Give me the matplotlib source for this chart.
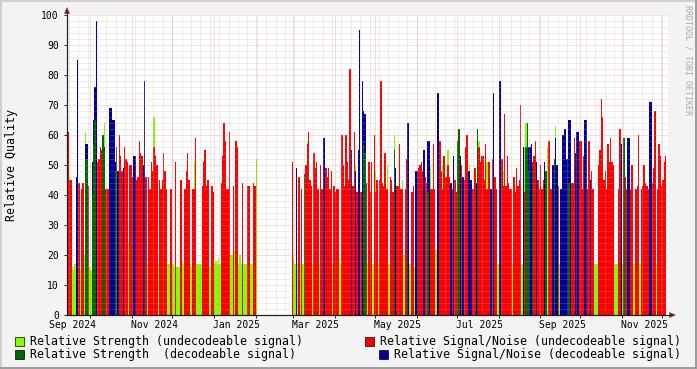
#!/usr/bin/env python3
# -*- coding: utf-8 -*-
"""
RRDtool-style daily signal quality chart, redrawn with matplotlib.
One bar per day, four overlaid series, grid drawn over the bars.
"""
import numpy as np
import pandas as pd
import matplotlib
matplotlib.use("Agg")
import matplotlib.pyplot as plt
import matplotlib.dates as mdates
from matplotlib.patches import Rectangle, Polygon
from matplotlib.lines import Line2D

# ---------------------------------------------------------------- data
# one token per day starting 2024-09-14, "." = no value
first_day = "2024-09-14"
n_days = 446

sn_undecodeable = """
61 45 45 . . . . . 44 .
42 44 . . . 43 . . . .
. . 51 52 56 55 . . 42 42
42 . . . . . . . 60 53
48 . 56 52 51 . 50 50 46 .
. 45 46 58 54 53 . . 46 .
46 42 51 48 56 53 50 . 45 42
45 54 48 42 . . 42 42 . .
51 . . . 45 . . 42 48 54
45 . . 42 42 59 . . . .
43 51 55 43 45 . . 43 41 .
. . . . 44 53 64 58 42 42
61 . . 43 . 58 56 . . .
44 . . . 43 43 . . 44 43
. . . . . . . . . .
. . . . . . . . . .
. . . . . . . 51 . .
. . 46 . 42 . . 50 57 61
45 43 . 54 49 51 42 . 50 42
. . 49 46 49 42 48 . 43 41
42 42 . . 60 50 43 60 51 45
82 . 43 61 . 41 . . 41 .
. . 44 . 51 41 51 . 60 41
45 . 45 78 44 43 54 42 42 .
46 45 41 . . 43 43 57 42 42
. 42 52 . . . 41 43 . .
. 49 50 51 48 . 46 44 . .
42 42 57 42 . . . 58 48 42
53 46 46 50 46 . 42 . 45 41
. . . 50 . 45 56 60 . .
. 42 42 49 . . 56 51 53 53
45 57 42 51 51 . 52 . 46 42
. . . 52 43 67 43 53 44 42
42 . 46 41 49 43 45 70 . .
41 . . . . . 51 53 58 .
45 42 50 42 45 . . . 58 42
42 . . . . 43 . . . .
. . . . . 44 44 59 . .
. 58 58 42 53 . . 42 58 .
48 42 . . . 50 55 72 66 45
48 42 57 51 59 51 50 . . .
42 62 . . . 46 42 . . 42
50 . . 42 43 60 . 42 43 50
44 43 42 . . 44 49 68 . 42
57 53 43 45 51 53
"""

sn_decodeable = """
. . . . . . 46 85 . .
. . . 57 57 . . . 51 65
76 98 . . . . 51 56 . .
. 69 69 65 65 51 51 48 . .
. 49 . . . . . . . 53
53 . . . . . 50 78 . .
. . . . . . . . . .
. . . . . . . . . .
. . . . . . . . . .
. . . . . . . . . .
. . . . . . . . . .
. . . . . . . . . .
. . . . . . . . . .
. . . . . . . . . .
. . . . . . . . . .
. . . . . . . . . .
. . . . . . . . . .
49 . . . . . 44 . . .
. . . . . . . . . .
59 59 . . . . . . . .
. . . . . . . . . .
. 55 . . 48 . 55 95 . 78
68 67 . . . . . . . .
. . . . . . . . . .
. . . 49 49 . . . . .
. . . 64 . . . . . 48
48 . . . . 55 . . 58 58
. . . . . 74 74 . . .
. . . . . 44 . 53 . .
55 55 53 . 46 . . . 48 48
45 . . . 44 60 . . . .
. . . . . 42 . 74 . .
. 78 78 . . . . . . .
. . . . . . . . . 56
. 48 56 56 56 57 . . . 51
. . . . . 51 46 . . .
. 50 50 59 50 . . 42 60 60
62 52 52 65 65 . . . 54 61
61 . . . . 65 65 . . 45
. . . . . . . . . .
. . . . . . . . . .
. . 57 . 56 . . 59 59 .
. . . . . . . . . .
. . . 71 71 . . . . .
. . . . . .
"""

strength_undecodeable = """
. . . 16 15 17 . . . 15
. . 20 61 . . 16 15 . .
. . . . . . . 64 . .
. . . . . . . . . .
. . . . . 24 . . . .
. . . . . . . . . 17
. . . . 66 . . 17 . .
. . . . 17 17 . . 17 16
. 16 16 16 . 18 17 . . .
. 17 16 . 51 . 17 17 17 17
. . . . . 16 16 . . 17
18 17 19 17 . . . . . .
. 20 20 . 21 . . 17 20 17
. 17 17 17 . . 17 17 . .
52 . . . . . . . . .
. . . . . . . . . .
. . . . . . . . 19 17
. 17 . 17 . 17 . . 58 .
. . 17 . . . . 17 . .
. . . . . . . 17 . .
. . 19 17 . . . . . .
. . . . 50 . . . . .
. . . 17 . . . 17 . 48
. 17 . . . . . . 50 17
. . . 60 . . . . . 45
20 . . . 17 17 . . 16 .
. . . . . . . . . .
50 . . . 22 . . . . 50
. . . 55 . . . . . .
. . 51 . . . . . . 50
. . . . . . 58 . . .
. . 51 47 . . . . . .
17 . . . 48 . . . . .
. 17 . . . . . . 17 .
56 64 . . . . . . . .
. . . . . . . 56 . .
. . . 63 . . 17 . . .
. . . . . . . . . .
. . . . . . . . . .
. . 17 17 17 . . . . .
. . . . . . . 17 17 17
. . . 17 . . . . . .
. 17 17 . . . 17 . . .
. . . . . . . . 17 .
. . . . . .
"""

strength_decodeable = """
. . . . . . . . . .
. . . 52 52 . . . 40 57
65 . . . . . 60 55 . .
. . . . . 48 56 . . .
. . . . . . . . . .
. . . . . . . . . .
. . . . . . . . . .
. . . . . . . . . .
. . . . . . . . . .
. . . . . . . . . .
. . . . . . . . . .
. . . . . . . . . .
. . . . . . . . . .
. . . . . . . . . .
. . . . . . . . . .
. . . . . . . . . .
. . . . . . . . . .
. . . . . . 47 . . .
. . . . . . . . . .
. . . . . . . . . .
. . . . . . . . . .
. . . . . . . . . .
58 54 . . . . . . . .
. . . . . . . . . .
. . . 55 . . . . . .
. . . . . . . . . .
. . . . . . . . 41 .
. . . . . . . . . .
. . . . . . . . . .
58 62 . . . . . . . .
. . . . . 62 . . . .
. . . . . . . . . .
. . . . . . . . . .
. . . . . . . . . .
. 56 64 48 . . 50 . . .
. . . . . . 48 . . .
. . 52 . . . . . . .
. . . 44 . . . . . .
. . . . . . . . . .
. . . . . . . . . .
. . . . . . . . . .
. . . . 59 . . . . .
. . . . . . . . . .
. . . . . . . . . .
. . . . . .
"""

y_ticks = list(range(0, 101, 10))
legend_labels = [
    "Relative Strength (undecodeable signal)",
    "Relative Signal/Noise (undecodeable signal)",
    "Relative Strength  (decodeable signal)",
    "Relative Signal/Noise (decodeable signal)",
]

# ---------------------------------------------------------------- style
W, H, DPI = 697, 369, 100
LIGHT_GREEN = "#80FF00"
DARK_GREEN = "#006600"
RED = "#FF0000"
BLUE = "#000099"
GRID = (0.7, 0.7, 0.7, 0.45)
MGRID = (0.9, 0.4, 0.4, 0.45)
ARROW = "#7F1F1F"
AXIS = "#1F1F1F"
BACK = "#F3F3F3"

plt.rcParams["font.family"] = ["DejaVu Sans Mono"]


def parse(s):
    vals = np.array([np.nan if t == "." else float(t) for t in s.split()])
    assert len(vals) == n_days, len(vals)
    return vals


def fx(px):
    return px / W


def fy(py):
    return 1 - py / H


red = parse(sn_undecodeable)
blue = parse(sn_decodeable)
lgreen = parse(strength_undecodeable)
dgreen = parse(strength_decodeable)

days = pd.date_range(first_day, periods=n_days, freq="D")
x = mdates.date2num(days)

fig = plt.figure(figsize=(W / DPI, H / DPI), dpi=DPI, facecolor=BACK)
ax = fig.add_axes([fx(67), fy(315), fx(601), 300 / H])
ax.set_facecolor("white")

x0 = mdates.date2num(pd.Timestamp("2024-09-13 14:00"))
ax.set_xlim(x0, x0 + 601 / 1.3425)
ax.set_ylim(0, 100)


def draw(vals, color, z):
    ok = ~np.isnan(vals)
    ax.bar(x[ok], vals[ok], width=1.0, align="edge", color=color,
           linewidth=0, antialiased=False, zorder=z)


draw(lgreen, LIGHT_GREEN, 2)
draw(red, RED, 3)
draw(blue, BLUE, 4)
draw(dgreen, DARK_GREEN, 5)

# dotted grid on top of the bars, like rrdtool
dots = (0, (1, 1))
grid_kw = dict(lw=0.72, ls=dots, zorder=6)
for v in range(2, 101, 2):
    ax.axhline(v, color=MGRID if v % 10 == 0 else GRID, **grid_kw)
for wk in pd.date_range("2024-09-15", "2025-12-07", freq="W-SUN"):
    ax.axvline(mdates.date2num(wk), color=GRID, **grid_kw)
month_starts = pd.date_range("2024-10-01", "2025-12-01", freq="MS")
for m in month_starts:
    ax.axvline(mdates.date2num(m), color=MGRID, **grid_kw)

# axes
for side in ("top", "right"):
    ax.spines[side].set_visible(False)
for side in ("left", "bottom"):
    ax.spines[side].set_color(AXIS)
    ax.spines[side].set_linewidth(0.8)
    ax.spines[side].set_zorder(8)

ax.set_yticks(y_ticks)
ax.set_yticklabels([str(v) for v in y_ticks])
ax.tick_params(axis="y", length=2.2, width=0.7, color=AXIS, pad=3.6, labelsize=7)
ax.set_xticks(mdates.date2num(month_starts))
ax.set_xticklabels([])
ax.tick_params(axis="x", length=2.2, width=0.7, color=AXIS)

# month labels, centred half a month past the tick
for m in pd.date_range("2024-09-01", "2025-11-01", freq="2MS"):
    cx = mdates.date2num(m) + 16.5
    ax.text(cx, -10 / 300, m.strftime("%b %Y"), transform=ax.get_xaxis_transform(),
            ha="center", va="center", fontsize=7, clip_on=False)

# axis extensions and arrows
fig.lines.append(Line2D([fx(67), fx(67)], [fy(315), fy(12)], color=AXIS, lw=0.8,
                        transform=fig.transFigure))
fig.lines.append(Line2D([fx(67), fx(671)], [fy(315), fy(315)], color=AXIS, lw=0.8,
                        transform=fig.transFigure))
fig.patches.append(Polygon([(fx(64.5), fy(13.5)), (fx(69.5), fy(13.5)), (fx(67), fy(7.5))],
                           closed=True, transform=fig.transFigure, facecolor=ARROW,
                           edgecolor=ARROW, lw=0.3))
fig.patches.append(Polygon([(fx(669.5), fy(312.5)), (fx(669.5), fy(317.5)), (fx(675.5), fy(315))],
                           closed=True, transform=fig.transFigure, facecolor=ARROW,
                           edgecolor=ARROW, lw=0.3))

# titles and watermark
fig.text(fx(12), fy(165), "Relative Quality", rotation=90, ha="center", va="center",
         fontsize=8.4)
fig.text(fx(688), fy(5), "RRDTOOL / TOBI OETIKER", rotation=270, ha="center", va="top",
         fontsize=6, color="#A8A8A8")

# legend rows
legend_items = [
    (15, 337, LIGHT_GREEN, 30, legend_labels[0]),
    (365, 337, RED, 380, legend_labels[1]),
    (15, 350, DARK_GREEN, 30, legend_labels[2]),
    (379, 350, BLUE, 394, legend_labels[3]),
]
for bx, by, col, tx, label in legend_items:
    fig.patches.append(Rectangle((fx(bx), fy(by + 9)), 9 / W, 9 / H, transform=fig.transFigure,
                                 facecolor=col, edgecolor="#000000", lw=0.5))
    fig.text(fx(tx), fy(by + 4.5), label, ha="left", va="center", fontsize=8.4)

# bevelled outer frame
for (rx, ry, rw, rh, col) in [(0, 0, W, 2, "#CFCFCF"), (0, 0, 2, H, "#CFCFCF"),
                              (0, H - 2, W, 2, "#9E9E9E"), (W - 2, 0, 2, H, "#9E9E9E")]:
    fig.patches.append(Rectangle((fx(rx), fy(ry + rh)), rw / W, rh / H,
                                 transform=fig.transFigure, facecolor=col, edgecolor="none"))

fig.savefig("out.png", dpi=DPI, facecolor=fig.get_facecolor())
